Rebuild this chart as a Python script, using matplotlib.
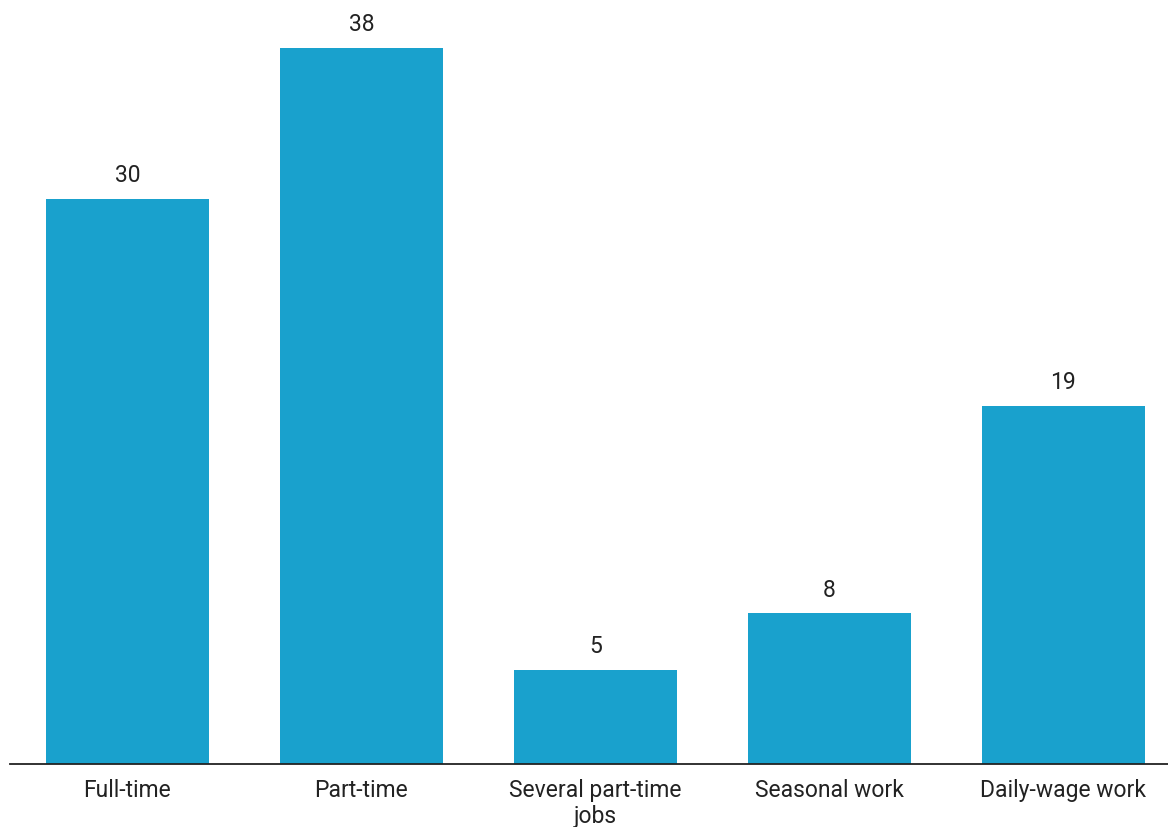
import numpy as np
import matplotlib.pyplot as plt

plt.rcParams['font.family'] = ['Roboto', 'DejaVu Sans']

# -----------------------------------------------------------------------------

categories = ['Full-time', 'Part-time', 'Several part-time\njobs',
              'Seasonal work', 'Daily-wage work']
values = [30, 38, 5, 8, 19]

# -----------------------------------------------------------------------------

fig = plt.figure(figsize=(11.68, 8.28), dpi=100)
ax = fig.add_axes([10 / 1168, 1 - 765 / 828, 1158 / 1168, 765 / 828])

x = np.arange(len(categories))
bars = ax.bar(x, values, width=0.70, color='#19a1cd')

for b, v in zip(bars, values):
    ax.annotate(str(v), (b.get_x() + b.get_width() / 2, v),
                xytext=(0, 9), textcoords='offset points',
                ha='center', va='bottom', fontsize=16.5, color='#222222')

ax.set_xlim(-0.502, 4.447)
ax.set_ylim(0, 765 / 18.85)

ax.set_xticks(x)
ax.set_xticklabels(categories, fontsize=16.5, color='#222222', linespacing=1.15)
ax.tick_params(axis='x', length=0, pad=10)
ax.set_yticks([])

for s in ['top', 'right', 'left']:
    ax.spines[s].set_visible(False)
ax.spines['bottom'].set_color('#222222')
ax.spines['bottom'].set_linewidth(1.3)

fig.savefig('out.png', dpi=100)
